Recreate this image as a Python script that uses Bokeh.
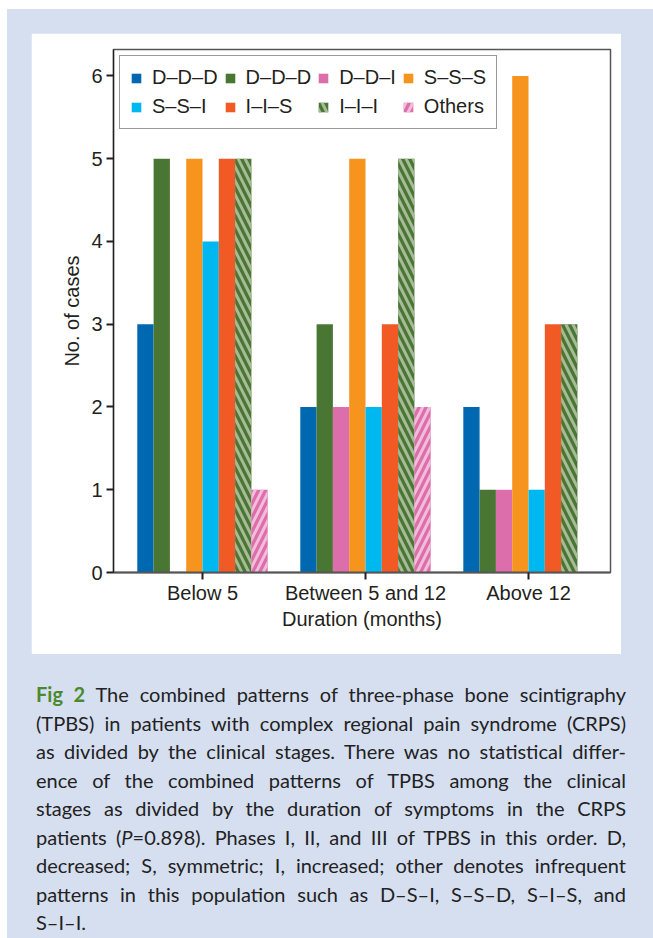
from bokeh.plotting import figure
from bokeh.models import (Legend, LegendItem, FixedTicker, ColumnDataSource,
                          Range1d, Div, Spacer)
from bokeh.transform import dodge
from bokeh.layouts import column, row
from bokeh.embed import file_html
from bokeh.resources import INLINE

# ---------------- data ----------------
groups = ["Below 5", "Between 5 and 12", "Above 12"]
series = ["D–D–D", "D–D–D", "D–D–I", "S–S–S", "S–S–I", "I–I–S", "I–I–I", "Others"]
ddd_blue = [3, 2, 2]
ddd_green = [5, 3, 1]
ddi = [0, 2, 1]
sss = [5, 5, 6]
ssi = [4, 2, 1]
iis = [5, 3, 3]
iii = [5, 5, 3]
others = [1, 2, 0]
y_ticks = [0, 1, 2, 3, 4, 5, 6]
x_title = "Duration (months)"
y_title = "No. of cases"

caption_lines = [
    '<b style="color:#4a8a2c;font-weight:700">Fig 2</b> The combined patterns of three-phase bone scintigraphy',
    '(TPBS) in patients with complex regional pain syndrome (CRPS)',
    'as divided by the clinical stages. There was no statistical differ-',
    'ence of the combined patterns of TPBS among the clinical',
    'stages as divided by the duration of symptoms in the CRPS',
    'patients (<i>P</i>=0.898). Phases I, II, and III of TPBS in this order. D,',
    'decreased; S, symmetric; I, increased; other denotes infrequent',
    'patterns in this population such as D–S–I, S–S–D, S–I–S, and',
    'S–I–I.',
]

# ---------------- style ----------------
colors = ["#0067b1", "#4a7634", "#dc6fab", "#f7941d", "#00b8f0", "#f15a24", "#4a7634", "#dc6fab"]
hatches = [None, None, None, None, None, None, "\\", "/"]
hatch_colors = [None, None, None, None, None, None, "#a7bb98", "#f2bddb"]
FONT = "Liberation Sans"
TXT = "#231f20"
BAR_W = 0.1

values = [ddd_blue, ddd_green, ddi, sss, ssi, iis, iii, others]
data = {"g": list(range(len(groups)))}
for i, v in enumerate(values):
    data[f"s{i}"] = v
src = ColumnDataSource(data)

p = figure(width=590, height=621,
           x_range=Range1d(-0.546, 2.503), y_range=Range1d(0, 6.32),
           output_backend="svg", toolbar_location=None,
           min_border_left=82, min_border_right=11,
           min_border_top=16, min_border_bottom=82)
p.background_fill_color = "white"
p.border_fill_color = "white"
p.outline_line_color = "#555555"
p.outline_line_width = 1.5
p.grid.visible = False

items = []
n = len(series)
for i in range(n):
    off = (i - (n - 1) / 2) * BAR_W
    kw = {}
    if hatches[i]:
        kw = dict(hatch_pattern=hatches[i], hatch_color=hatch_colors[i],
                  hatch_scale=14, hatch_weight=3)
    r = p.vbar(x=dodge("g", off, range=p.x_range), top=f"s{i}", width=BAR_W,
               source=src, fill_color=colors[i], line_color=None, **kw)
    items.append(LegendItem(label=series[i], renderers=[r]))

legend = Legend(items=items, location="top_left", orientation="horizontal")
legend.ncols = 4
legend.margin = 6
legend.padding = 10
legend.spacing = 6
legend.label_standoff = 10
legend.glyph_width = 12
legend.glyph_height = 12
legend.label_text_font = FONT
legend.label_text_font_size = "20px"
legend.label_text_color = TXT
legend.border_line_color = "#333333"
legend.border_line_width = 1.2
legend.background_fill_alpha = 1
p.add_layout(legend)

p.xaxis.ticker = FixedTicker(ticks=data["g"])
p.xaxis.major_label_overrides = {i: g for i, g in enumerate(groups)}
p.yaxis.ticker = FixedTicker(ticks=y_ticks)
p.xaxis.axis_label = x_title
p.yaxis.axis_label = y_title
for ax in (p.xaxis, p.yaxis):
    ax.minor_tick_line_color = None
    ax.major_tick_in = 0
    ax.major_tick_out = 7
    ax.major_label_text_font = FONT
    ax.major_label_text_font_size = "20px"
    ax.major_label_text_color = TXT
    ax.axis_label_text_font = FONT
    ax.axis_label_text_font_size = "20px"
    ax.axis_label_text_font_style = "normal"
    ax.axis_label_text_color = TXT
    ax.major_label_standoff = 4
    ax.axis_label_standoff = 5
p.xaxis.major_label_standoff = 2
p.xaxis.axis_label_standoff = 1
p.xaxis.axis_line_color = "#555555"
p.xaxis.axis_line_width = 2
p.xaxis.major_tick_line_color = TXT
p.xaxis.major_tick_line_width = 2
p.yaxis.axis_line_color = TXT
p.yaxis.axis_line_width = 1.3
p.yaxis.major_tick_line_color = TXT
p.yaxis.major_tick_line_width = 1.8

line_divs = []
for k, ln in enumerate(caption_lines):
    last = (k == len(caption_lines) - 1)
    al = "left" if last else "justify"
    line_divs.append(
        f'<div style="text-align:justify;text-align-last:{al};">{ln}</div>')
cap_html = ('<div style="font-family:Lato;font-size:20px;line-height:28.5px;'
            'color:#222222;width:590px;">' + "".join(line_divs) + '</div>')
cap = Div(text=cap_html, width=590)

panel = column(
    Spacer(height=24),
    row(Spacer(width=24), p),
    Spacer(height=21),
    row(Spacer(width=24), cap),
    width=646,
    styles={"background-color": "#d6dff0"},
)

layout = column(
    Spacer(height=9),
    row(Spacer(width=7), panel),
)

open("out.html", "w").write(file_html(layout, INLINE))
